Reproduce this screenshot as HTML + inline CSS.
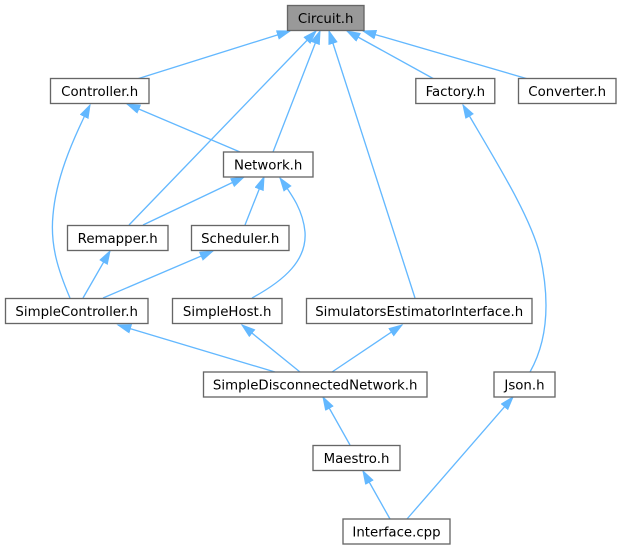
<!DOCTYPE html>
<html><head><meta charset="utf-8"><style>
html,body{margin:0;padding:0;background:#fff;}
svg{display:block;}
text{font-family:"DejaVu Sans","Liberation Sans",sans-serif;font-size:13.33px;fill:#000;text-anchor:middle;}
.b{fill:#fff;stroke:#666;stroke-width:1.33;}
.e{fill:none;stroke:#63b8ff;stroke-width:1.33;}
</style></head><body>
<svg width="621" height="549" viewBox="0 0 621 549" xmlns="http://www.w3.org/2000/svg">
<defs>
<marker id="a" markerWidth="15" markerHeight="11" refX="13.3" refY="4.7" orient="auto" markerUnits="userSpaceOnUse">
<path d="M0.5,0.5 L13.3,4.7 L0.5,8.9 z" fill="#63b8ff" stroke="#63b8ff" stroke-width="1"/>
</marker>
</defs>
<!-- edges -->
<path class="e" marker-end="url(#a)" d="M137,79 L290,31"/>
<path class="e" marker-end="url(#a)" d="M273,152 L320,31"/>
<path class="e" marker-end="url(#a)" d="M129,225 L316,31"/>
<path class="e" marker-end="url(#a)" d="M415,298 L329,31"/>
<path class="e" marker-end="url(#a)" d="M434,79 L347,31"/>
<path class="e" marker-end="url(#a)" d="M528,79 L363,31"/>
<path class="e" marker-end="url(#a)" d="M240,152 L127,104"/>
<path class="e" marker-end="url(#a)" d="M70,298 C58,270 50,245 53,215 C56,180 70,145 90,105"/>
<path class="e" marker-end="url(#a)" d="M143,225 L244,177"/>
<path class="e" marker-end="url(#a)" d="M245,225 L264,177"/>
<path class="e" marker-end="url(#a)" d="M252,298 C285,280 307,260 305,232 C303,210 292,195 280,178"/>
<path class="e" marker-end="url(#a)" d="M83,298 L110,251"/>
<path class="e" marker-end="url(#a)" d="M103,298 L213,251"/>
<path class="e" marker-end="url(#a)" d="M275,372 L118,325"/>
<path class="e" marker-end="url(#a)" d="M300,372 L242,325"/>
<path class="e" marker-end="url(#a)" d="M332,372 L402,325"/>
<path class="e" marker-end="url(#a)" d="M530,372 C548,340 550,300 540,255 C530,215 495,160 463,105"/>
<path class="e" marker-end="url(#a)" d="M350,445 L323,397"/>
<path class="e" marker-end="url(#a)" d="M390,519 L363,471"/>
<path class="e" marker-end="url(#a)" d="M407,519 L513,397"/>
<!-- nodes -->
<rect x="287.5" y="5.5" width="76.5" height="25" fill="#999" stroke="#666" stroke-width="1.33"/>
<text x="325.7" y="23">Circuit.h</text>

<rect class="b" x="50.5" y="78.5" width="98.5" height="25"/>
<text x="99.7" y="96">Controller.h</text>

<rect class="b" x="415.8" y="78.5" width="79" height="25"/>
<text x="455.3" y="96">Factory.h</text>

<rect class="b" x="518.5" y="78.5" width="97.5" height="25"/>
<text x="567.2" y="96">Converter.h</text>

<rect class="b" x="223.5" y="152" width="89.5" height="25"/>
<text x="268.2" y="169.5">Network.h</text>

<rect class="b" x="67.5" y="225.5" width="100.5" height="25"/>
<text x="117.7" y="243">Remapper.h</text>

<rect class="b" x="191.5" y="225.5" width="97.5" height="25"/>
<text x="240.2" y="243">Scheduler.h</text>

<rect class="b" x="5.5" y="298.5" width="142.5" height="25"/>
<text x="76.7" y="316">SimpleController.h</text>

<rect class="b" x="172.5" y="298.5" width="109.5" height="25"/>
<text x="227.2" y="316">SimpleHost.h</text>

<rect class="b" x="306.5" y="298.5" width="225.5" height="25"/>
<text x="419.2" y="316">SimulatorsEstimatorInterface.h</text>

<rect class="b" x="203.5" y="372" width="223.5" height="25"/>
<text x="315.2" y="389.5">SimpleDisconnectedNetwork.h</text>

<rect class="b" x="494" y="372" width="61" height="25"/>
<text x="524.5" y="389.5">Json.h</text>

<rect class="b" x="313" y="445.5" width="87" height="25"/>
<text x="356.5" y="463">Maestro.h</text>

<rect class="b" x="343" y="519" width="107" height="25"/>
<text x="396.5" y="536.5">Interface.cpp</text>
</svg>
</body></html>
